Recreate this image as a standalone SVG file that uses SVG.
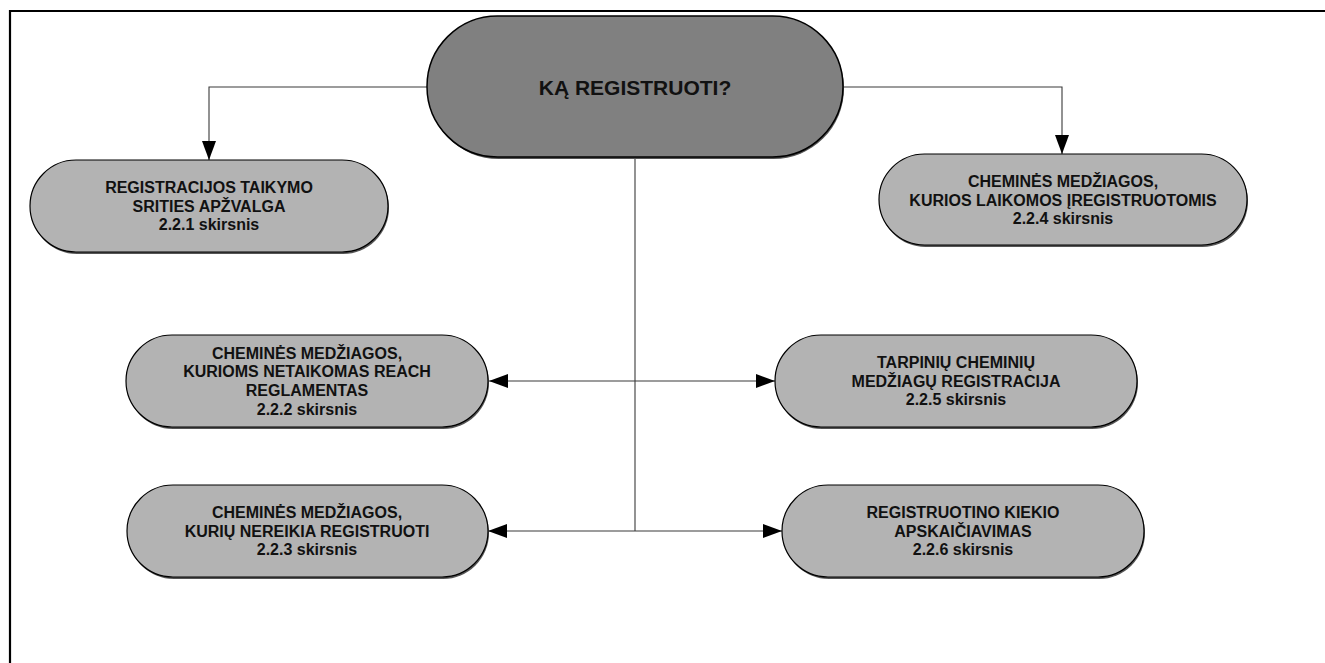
<svg xmlns="http://www.w3.org/2000/svg" width="1325" height="663" viewBox="0 0 1325 663">
<style>
.node{fill:#b3b3b3;stroke:#000;stroke-width:1.2}
.main{fill:#808080;stroke:#000;stroke-width:1.5}
.shadow{fill:#555}
.t{font-family:"Liberation Sans",Arial,sans-serif;font-weight:bold;font-size:16px;fill:#111;text-anchor:middle}
.tm{font-family:"Liberation Sans",Arial,sans-serif;font-weight:bold;font-size:21px;fill:#111;text-anchor:middle}
.conn{fill:none;stroke:#3a3a3a;stroke-width:1.1}
</style>
<defs>
<marker id="arr" markerUnits="userSpaceOnUse" markerWidth="20" markerHeight="14" refX="19" refY="7" orient="auto-start-reverse">
<path d="M0,0 L19,7 L0,14 z" fill="#000"/>
</marker>
</defs>
<rect x="0" y="0" width="1325" height="663" fill="#fff"/>
<path d="M10,663 V11 H1325" fill="none" stroke="#000" stroke-width="2.2"/>
<g id="connectors">
<path class="conn" d="M427,87 H209 V160" marker-end="url(#arr)"/>
<path class="conn" d="M843,87 H1062 V154" marker-end="url(#arr)"/>
<path class="conn" d="M635,157 V531"/>
<path class="conn" d="M489,381 H775" marker-start="url(#arr)" marker-end="url(#arr)"/>
<path class="conn" d="M488,531 H782" marker-start="url(#arr)" marker-end="url(#arr)"/>
</g>
<g id="main">
<rect class="shadow" x="428" y="18" width="416" height="141" rx="70.5"/>
<rect class="main" x="427" y="16" width="416" height="141" rx="70.5"/>
<text class="tm" x="635" y="94.5">KĄ REGISTRUOTI?</text>
</g>
<g id="n221">
<rect class="shadow" x="31" y="162" width="358" height="92" rx="46"/>
<rect class="node" x="30" y="160" width="358" height="92" rx="46"/>
<text class="t" x="209" y="193">REGISTRACIJOS TAIKYMO</text>
<text class="t" x="209" y="211.7">SRITIES APŽVALGA</text>
<text class="t" x="209" y="230.4">2.2.1 skirsnis</text>
</g>
<g id="n224">
<rect class="shadow" x="880" y="156" width="368" height="91" rx="45.5"/>
<rect class="node" x="879" y="154" width="368" height="91" rx="45.5"/>
<text class="t" x="1063" y="187">CHEMINĖS MEDŽIAGOS,</text>
<text class="t" x="1063" y="205.7">KURIOS LAIKOMOS ĮREGISTRUOTOMIS</text>
<text class="t" x="1063" y="224.4">2.2.4 skirsnis</text>
</g>
<g id="n222">
<rect class="shadow" x="127" y="337" width="362" height="92" rx="46"/>
<rect class="node" x="126" y="335" width="362" height="92" rx="46"/>
<text class="t" x="307" y="358.5">CHEMINĖS MEDŽIAGOS,</text>
<text class="t" x="307" y="377.2">KURIOMS NETAIKOMAS REACH</text>
<text class="t" x="307" y="395.9">REGLAMENTAS</text>
<text class="t" x="307" y="414.6">2.2.2 skirsnis</text>
</g>
<g id="n225">
<rect class="shadow" x="776" y="337" width="362" height="92" rx="46"/>
<rect class="node" x="775" y="335" width="362" height="92" rx="46"/>
<text class="t" x="956" y="368">TARPINIŲ CHEMINIŲ</text>
<text class="t" x="956" y="386.7">MEDŽIAGŲ REGISTRACIJA</text>
<text class="t" x="956" y="405.4">2.2.5 skirsnis</text>
</g>
<g id="n223">
<rect class="shadow" x="128" y="487" width="361" height="92" rx="46"/>
<rect class="node" x="127" y="485" width="361" height="92" rx="46"/>
<text class="t" x="307" y="517.9">CHEMINĖS MEDŽIAGOS,</text>
<text class="t" x="307" y="536.6">KURIŲ NEREIKIA REGISTRUOTI</text>
<text class="t" x="307" y="555.3">2.2.3 skirsnis</text>
</g>
<g id="n226">
<rect class="shadow" x="783" y="487" width="362" height="92" rx="46"/>
<rect class="node" x="782" y="485" width="362" height="92" rx="46"/>
<text class="t" x="963" y="517.9">REGISTRUOTINO KIEKIO</text>
<text class="t" x="963" y="536.6">APSKAIČIAVIMAS</text>
<text class="t" x="963" y="555.3">2.2.6 skirsnis</text>
</g>
</svg>
